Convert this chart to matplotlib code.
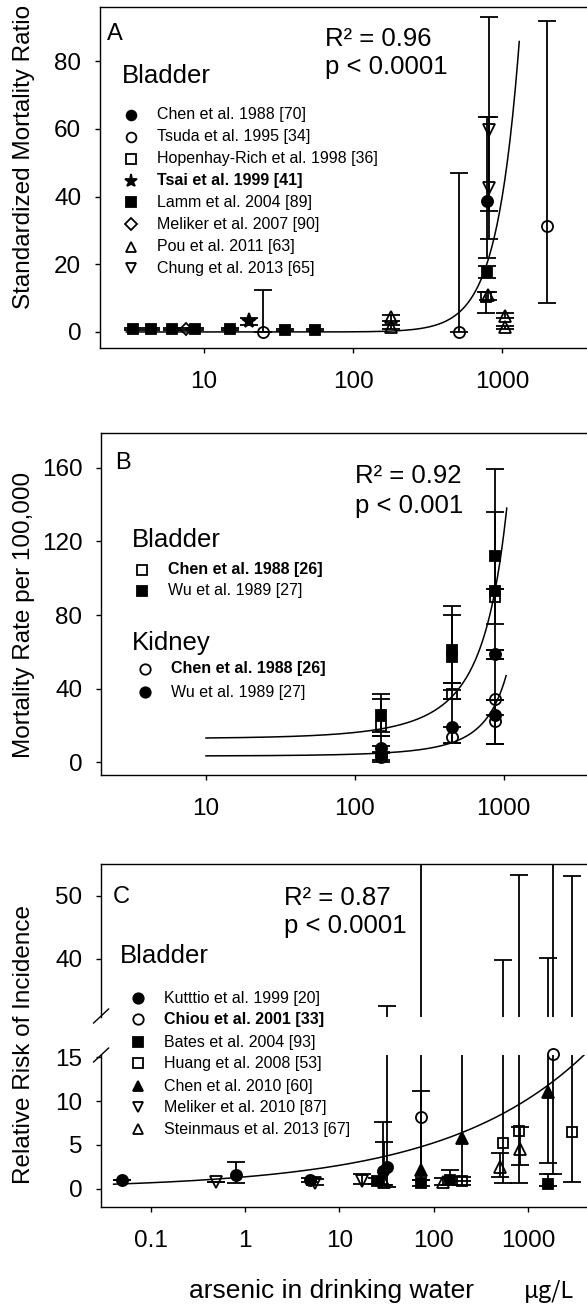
import numpy as np
import matplotlib
matplotlib.use("Agg")
import matplotlib.pyplot as plt
from matplotlib.lines import Line2D
from matplotlib.ticker import NullLocator

plt.rcParams['font.family'] = ['Liberation Sans', 'DejaVu Sans']

W, H = 587, 1308

# ---------------------------------------------------------------
# Panel A - bladder cancer, standardized mortality ratio
# ---------------------------------------------------------------
chen88_x = [785]
chen88_y = [38.8]
chen88_lo = [21.8]
chen88_hi = [63.5]

tsuda_x = [25, 516, 2000]
tsuda_y = [0.0, 0.0, 31.3]
tsuda_lo = [0.0, 0.0, 8.6]
tsuda_hi = [12.4, 47.0, 92.0]

hopenhay_x = [775]
hopenhay_y = [10.2]
hopenhay_lo = [5.6]
hopenhay_hi = [11.8]

tsai_x = [20]
tsai_y = [3.1]
tsai_lo = [2.1]
tsai_hi = [4.1]

lamm_x = [3.35, 4.4, 6.1, 8.7, 14.8, 35, 55.6, 790]
lamm_y = [0.9, 0.9, 0.8, 0.8, 0.8, 0.7, 0.7, 17.8]
lamm_lo = [0.6, 0.6, 0.5, 0.5, 0.5, 0.4, 0.4, 16.0]
lamm_hi = [1.2, 1.2, 1.1, 1.1, 1.1, 1.0, 1.0, 19.5]

meliker07_x = [7.6]
meliker07_y = [0.9]
meliker07_lo = [0.6]
meliker07_hi = [1.3]

pou_x = [180, 180, 800, 1050, 1050]
pou_y = [4.3, 1.6, 10.8, 4.8, 1.4]
pou_lo = [3.3, 0.8, 9.4, 4.2, 0.9]
pou_hi = [5.0, 2.1, 11.8, 5.5, 1.8]

chung_x = [815, 815]
chung_y = [59.6, 42.5]
chung_lo = [35.7, 27.5]
chung_hi = [93.0, 63.5]

# power-law fit drawn in panel A: y = a * x^n
fitA_a, fitA_n, fitA_range = 8.0e-8, 2.9, (3, 1300)

# ---------------------------------------------------------------
# Panel B - mortality rate per 100,000
# ---------------------------------------------------------------
bl_chen_x = [150, 450, 870]
bl_chen_y = [20.0, 36.9, 90.0]
bl_chen_lo = [14.1, 34.2, 75.4]
bl_chen_hi = [34.7, 42.9, 94.4]

bl_wu_x = [150, 450, 450, 870, 870]
bl_wu_y = [25.5, 61.0, 57.5, 111.8, 93.0]
bl_wu_lo = [16.8, 39.6, 42.9, 94.4, 60.8]
bl_wu_hi = [36.9, 84.7, 79.8, 159.0, 136.0]

kd_chen_x = [150, 450, 870, 870]
kd_chen_y = [3.0, 13.6, 34.2, 22.3]
kd_chen_lo = [0.5, 10.3, 26.0, 9.8]
kd_chen_hi = [5.5, 19.5, 56.0, 33.8]

kd_wu_x = [150, 150, 450, 870, 870]
kd_wu_y = [8.0, 4.5, 19.5, 58.6, 26.0]
kd_wu_lo = [5.0, 1.5, 10.3, 56.0, 9.8]
kd_wu_hi = [14.1, 8.7, 34.2, 60.8, 33.8]

# exponential fits drawn in panel B: y = c * exp(k x)
fitB_bladder = (13.0, 0.00225, (10, 1050))
fitB_kidney = (3.5, 0.0025, (10, 1040))

# ---------------------------------------------------------------
# Panel C - relative risk of incidence
# ---------------------------------------------------------------
kutttio_x = [0.049, 0.79, 4.9, 29, 31.7]
kutttio_y = [1.0, 1.6, 1.0, 2.0, 2.5]
kutttio_lo = [1.0, 0.7, 0.8, 0.5, 0.25]
kutttio_hi = [1.0, 3.1, 1.2, 7.6, 32.5]

chiou_x = [74, 1860]
chiou_y = [8.2, 15.4]
chiou_lo = [1.0, 1.7]
chiou_hi = [200.0, 200.0]

bates_x = [25, 74, 150, 1650]
bates_y = [0.95, 0.7, 1.0, 0.6]
bates_lo = [0.6, 0.3, 0.5, 0.3]
bates_hi = [1.3, 1.0, 2.2, 1.7]

huang_x = [200, 550, 810, 2950]
huang_y = [0.9, 5.2, 6.6, 6.5]
huang_lo = [0.5, 0.7, 0.7, 0.8]
huang_hi = [1.4, 39.8, 53.4, 53.2]

chen10_x = [74, 200, 1620]
chen10_y = [2.2, 5.8, 11.05]
chen10_lo = [1.0, 0.9, 2.9]
chen10_hi = [11.1, 22.0, 40.2]

meliker10_x = [0.49, 5.5, 17.5]
meliker10_y = [0.8, 0.7, 0.95]
meliker10_lo = [0.8, 0.5, 0.6]
meliker10_hi = [0.8, 1.1, 1.7]

steinmaus_x = [30, 125, 500, 820]
steinmaus_y = [0.8, 0.8, 2.5, 4.5]
steinmaus_lo = [0.4, 0.5, 1.4, 2.7]
steinmaus_hi = [5.3, 1.3, 4.1, 7.1]

# power-law fit drawn in panel C
fitC_a, fitC_n, fitC_range = 1.38, 0.29, (0.04, 6000)


# ---------------------------------------------------------------
# helpers (positions in figure pixels)
# ---------------------------------------------------------------
fig = plt.figure(figsize=(W / 100, H / 100), dpi=100)


def px_axes(left, right, top, bottom):
    return fig.add_axes([left / W, 1 - bottom / H, (right - left) / W, (bottom - top) / H])


def ftext(x, y, s, size, **kw):
    fig.text(x / W, 1 - y / H, s, fontsize=size, **kw)


def style(ax, xlim, ylim, xticks, yticks):
    ax.set_xscale('log')
    ax.set_xlim(xlim)
    ax.set_ylim(ylim)
    ax.set_xticks(xticks, [f"{t:g}" for t in xticks])
    ax.xaxis.set_minor_locator(NullLocator())
    ax.set_yticks(yticks)
    ax.tick_params(direction='out', length=3.5, width=1.0, labelsize=17.5)
    ax.tick_params(axis='x', pad=13)
    ax.tick_params(axis='y', pad=10)
    for s in ax.spines.values():
        s.set_linewidth(1.0)


def study(ax, x, y, lo, hi, marker, filled, ms=8, markers=True, clip=True):
    x, y = np.array(x), np.array(y)
    yerr = [y - np.array(lo), np.array(hi) - y]
    ax.errorbar(x, y, yerr=yerr, fmt='none', ecolor='black',
                elinewidth=1.3, capsize=6.5, capthick=1.3, zorder=2)
    if markers:
        ax.plot(x, y, ls='none', marker=marker, ms=ms,
                mfc='black' if filled else 'none', mec='black', mew=1.3,
                clip_on=clip, zorder=3)


def legend_row(xm, xt, y, marker, filled, label, bold=False, ms=7):
    fig.add_artist(Line2D([xm / W], [1 - y / H], marker=marker, ms=ms, ls='none',
                          mfc='black' if filled else 'none', mec='black', mew=1.3,
                          transform=fig.transFigure))
    ftext(xt, y, label, 11.5, va='center', weight='bold' if bold else 'normal')


# ---------------------------------------------------------------
# Panel A
# ---------------------------------------------------------------
axA = px_axes(100, 592, 7, 348)
style(axA, (2, 4000), (-4.73, 96.0), [10, 100, 1000], [0, 20, 40, 60, 80])

xa = np.geomspace(*fitA_range, 300)
axA.plot(xa, fitA_a * xa ** fitA_n, color='black', lw=1.1, zorder=1)

study(axA, lamm_x, lamm_y, lamm_lo, lamm_hi, 's', True, ms=7)
study(axA, meliker07_x, meliker07_y, meliker07_lo, meliker07_hi, 'D', False, ms=6)
study(axA, tsai_x, tsai_y, tsai_lo, tsai_hi, '*', True, ms=11)
study(axA, tsuda_x, tsuda_y, tsuda_lo, tsuda_hi, 'o', False, ms=8)
study(axA, pou_x, pou_y, pou_lo, pou_hi, '^', False, ms=8)
study(axA, hopenhay_x, hopenhay_y, hopenhay_lo, hopenhay_hi, 's', False, ms=7)
study(axA, chung_x, chung_y, chung_lo, chung_hi, 'v', False, ms=8)
study(axA, chen88_x, chen88_y, chen88_lo, chen88_hi, 'o', True, ms=8)

ftext(107, 40, "A", 17)
ftext(325, 45.5, "R² = 0.96", 18.5)
ftext(325, 74, "p < 0.0001", 18.5)
ftext(122, 83, "Bladder", 18.5)
ftext(24, 157, "Standardized Mortality Ratio", 17.5, rotation=90, ha='center', va='center')

rowsA = [("o", True, "Chen et al. 1988 [70]", False),
         ("o", False, "Tsuda et al. 1995 [34]", False),
         ("s", False, "Hopenhay-Rich et al. 1998 [36]", False),
         ("*", True, "Tsai et al. 1999 [41]", True),
         ("s", True, "Lamm et al. 2004 [89]", False),
         ("D", False, "Meliker et al. 2007 [90]", False),
         ("^", False, "Pou et al. 2011 [63]", False),
         ("v", False, "Chung et al. 2013 [65]", False)]
rowA_y = [115, 137, 159, 181, 202, 224, 247, 268]
for (m, f, lab, b), ry in zip(rowsA, rowA_y):
    size = 9.5 if m == '*' else (6 if m == 'D' else 7)
    legend_row(131, 157, ry, m, f, lab, bold=b, ms=size)

# ---------------------------------------------------------------
# Panel B
# ---------------------------------------------------------------
axB = px_axes(101, 592, 433, 775)
style(axB, (1.97, 3927), (-6.8, 178.8), [10, 100, 1000], [0, 40, 80, 120, 160])

for c, k, rng in (fitB_bladder, fitB_kidney):
    xb = np.geomspace(*rng, 300)
    axB.plot(xb, c * np.exp(k * xb), color='black', lw=1.1, zorder=1)

study(axB, bl_chen_x, bl_chen_y, bl_chen_lo, bl_chen_hi, 's', False, ms=7)
study(axB, bl_wu_x, bl_wu_y, bl_wu_lo, bl_wu_hi, 's', True, ms=7)
study(axB, kd_chen_x, kd_chen_y, kd_chen_lo, kd_chen_hi, 'o', False, ms=8)
study(axB, kd_wu_x, kd_wu_y, kd_wu_lo, kd_wu_hi, 'o', True, ms=8)

ftext(115, 469, "B", 17)
ftext(355, 483, "R² = 0.92", 18.5)
ftext(355, 512.7, "p < 0.001", 18.5)
ftext(132, 547, "Bladder", 18.5)
ftext(132, 650, "Kidney", 18.5)
ftext(24, 615, "Mortality Rate per 100,000", 17.5, rotation=90, ha='center', va='center')

legend_row(141.5, 168.5, 570, 's', False, "Chen et al. 1988 [26]", bold=True)
legend_row(141.5, 168.5, 591, 's', True, "Wu et al. 1989 [27]")
legend_row(145, 171, 669, 'o', False, "Chen et al. 1988 [26]", bold=True, ms=7.5)
legend_row(145, 171, 692, 'o', True, "Wu et al. 1989 [27]", ms=7.5)

# ---------------------------------------------------------------
# Panel C (broken y axis)
# ---------------------------------------------------------------
xlimC = (0.0294, 4790)
ticksC = [0.1, 1, 10, 100, 1000]
axC = px_axes(101, 592, 1055, 1207)
style(axC, xlimC, (-2.05, 15.23), ticksC, [0, 5, 10, 15])
axC.spines['top'].set_visible(False)

axCu = px_axes(101, 592, 864, 1017)
style(axCu, xlimC, (30.79, 55.08), ticksC, [40, 50])
axCu.spines['bottom'].set_visible(False)
axCu.tick_params(axis='x', bottom=False, labelbottom=False)

xc = np.geomspace(*fitC_range, 300)
axC.plot(xc, fitC_a * xc ** fitC_n, color='black', lw=1.1, zorder=1)

studiesC = [(kutttio_x, kutttio_y, kutttio_lo, kutttio_hi, 'o', True, 8),
            (chiou_x, chiou_y, chiou_lo, chiou_hi, 'o', False, 8),
            (bates_x, bates_y, bates_lo, bates_hi, 's', True, 7),
            (huang_x, huang_y, huang_lo, huang_hi, 's', False, 7),
            (chen10_x, chen10_y, chen10_lo, chen10_hi, '^', True, 8),
            (meliker10_x, meliker10_y, meliker10_lo, meliker10_hi, 'v', False, 8),
            (steinmaus_x, steinmaus_y, steinmaus_lo, steinmaus_hi, '^', False, 8)]
for sx, sy, slo, shi, m, f, ms in studiesC:
    study(axC, sx, sy, slo, shi, m, f, ms=ms, clip=False)
    study(axCu, sx, sy, slo, shi, m, f, ms=ms, markers=False)

# break marks on the left axis line
for yb in (1016, 1055):
    fig.add_artist(Line2D([93.6 / W, 108.6 / W], [1 - (yb + 7) / H, 1 - (yb - 7) / H],
                          color='black', lw=1.0))

ftext(113, 903, "C", 17)
ftext(284.5, 905, "R² = 0.87", 18.5)
ftext(284.5, 933, "p < 0.0001", 18.5)
ftext(120, 963, "Bladder", 18.5)
ftext(24, 1045, "Relative Risk of Incidence", 17.5, rotation=90, ha='center', va='center')

rowsC = [("o", True, "Kutttio et al. 1999 [20]", False),
         ("o", False, "Chiou et al. 2001 [33]", True),
         ("s", True, "Bates et al. 2004 [93]", False),
         ("s", False, "Huang et al. 2008 [53]", False),
         ("^", True, "Chen et al. 2010 [60]", False),
         ("v", False, "Meliker et al. 2010 [87]", False),
         ("^", False, "Steinmaus et al. 2013 [67]", False)]
rowC_y = [998, 1019.3, 1042.3, 1063.3, 1086, 1107.3, 1129.3]
for (m, f, lab, b), ry in zip(rowsC, rowC_y):
    legend_row(138, 164, ry, m, f, lab, bold=b, ms=7.5 if m in 'o^v' else 7)

ftext(189, 1298, "arsenic in drinking water", 19)
ftext(524, 1298, "μg/L", 17, family=['Noto Sans CJK JP', 'DejaVu Sans'])

fig.savefig("out.png", dpi=100)
